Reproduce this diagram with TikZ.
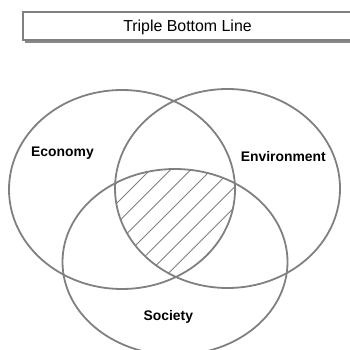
\documentclass[tikz,border=0pt]{standalone}
\usepackage{fontspec}
\setmainfont{Liberation Sans}
\definecolor{linegray}{RGB}{128,128,128}
\definecolor{shadowgray}{RGB}{136,136,136}
\tikzset{
  venn/.style={draw=linegray, line width=1.8pt},
  hatchline/.style={draw=linegray, line width=0.9pt},
  boxframe/.style={draw=linegray, line width=1.1pt, fill=white},
  boxshadow/.style={fill=shadowgray},
  vlabel/.style={font=\fontsize{13.9}{16}\selectfont\bfseries, inner sep=0pt, anchor=base},
  titletext/.style={font=\fontsize{15.9}{18}\selectfont, inner sep=0pt, anchor=base}
}
\begin{document}
\begin{tikzpicture}[x=1pt,y=-1pt]
\useasboundingbox (0,0) rectangle (350,350);
\clip (0,0) rectangle (350,350);
% title box
\fill[boxshadow] (25,40) rectangle (360,43.5);
\draw[boxframe] (23,12) rectangle (352,40);
\node[titletext] (title) at (187.5,31.7) {Triple Bottom Line};
% hatched common area
\begin{scope}
  \clip (122,189.5) ellipse [x radius=113pt, y radius=99.5pt];
  \clip (227.5,188.5) ellipse [x radius=112.5pt, y radius=99.5pt];
  \clip (175,262) ellipse [x radius=112.5pt, y radius=93pt];
  \foreach \k in {-10,...,10} {
    \draw[hatchline] ({125+20.3*\k-200},{195+200*1.0}) -- ({125+20.3*\k+200},{195-200*1.0});
  }
\end{scope}
% ellipses
\draw[venn] (122,189.5) ellipse [x radius=113pt, y radius=99.5pt];
\draw[venn] (227.5,188.5) ellipse [x radius=112.5pt, y radius=99.5pt];
\draw[venn] (175,262) ellipse [x radius=112.5pt, y radius=93pt];
% labels
\node[vlabel] (economy) at (62.5,156) {Economy};
\node[vlabel] (environment) at (283.3,161) {Environment};
\node[vlabel] (society) at (168.3,320.7) {Society};
\end{tikzpicture}
\end{document}
